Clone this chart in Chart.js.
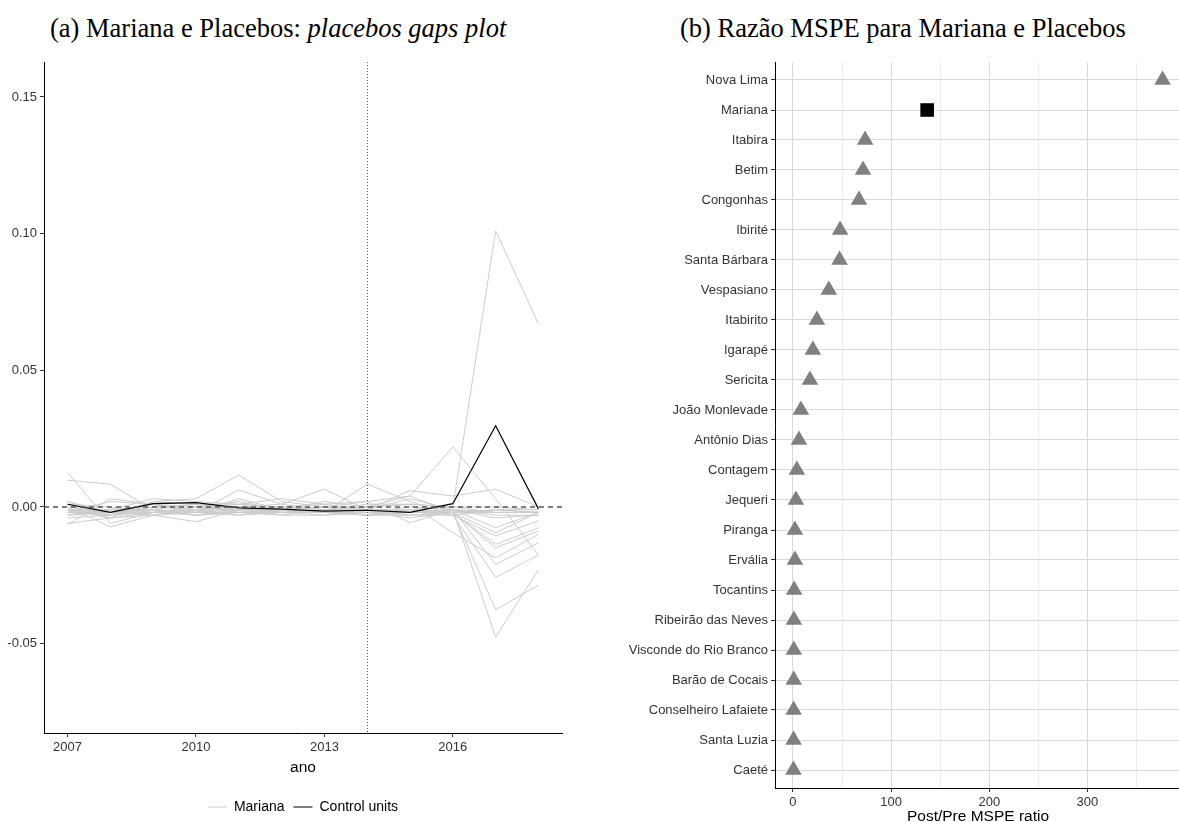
<!DOCTYPE html>
<html>
<head>
<meta charset="utf-8">
<script src="https://cdn.jsdelivr.net/npm/chart.js@4"></script>
<style>
  body { margin: 0; width: 1179px; height: 822px; overflow: hidden; background: #fff; position: relative; }
  .ttl { position: absolute; top: 15px; font-family: "Liberation Serif", "Times New Roman", serif; font-size: 26.5px; line-height: 1; color: #000; white-space: nowrap; }
  #gaps { position: absolute; left: 0; top: 40px; }
  #ratio { position: absolute; left: 598px; top: 50px; }
</style>
</head>
<body>
<div class="ttl" style="left:50px">(a) Mariana e Placebos: <i>placebos gaps plot</i></div>
<div class="ttl" style="left:680px">(b) Razão MSPE para Mariana e Placebos</div>
<canvas id="gaps" width="576" height="784"></canvas>
<canvas id="ratio" width="583" height="778"></canvas>
<script>
// ---- panel (a): gaps ----
const years = [2007, 2008, 2009, 2010, 2011, 2012, 2013, 2014, 2015, 2016, 2017, 2018];
const treatYear = 2014;
const yearTicks = [2007, 2010, 2013, 2016];
const gapTicks = [-0.05, 0, 0.05, 0.10, 0.15];

const marianaGap = [0.001, -0.002, 0.0012, 0.0016, -0.0003, -0.0008, -0.0015, -0.0012, -0.002, 0.0012, 0.0297, -0.0007];

// one row per placebo unit, same order as years
const placeboGaps = [
  [-0.001, -0.002, 0.000, -0.001, 0.001, 0.000, -0.001, 0.000, 0.001, 0.000, 0.101, 0.067],
  [0.002, -0.003, 0.001, 0.000, 0.002, -0.001, 0.000, 0.002, 0.004, 0.022, 0.003, -0.0176],
  [0.0126, -0.006, -0.002, -0.001, 0.000, -0.002, -0.001, -0.002, 0.000, -0.001, -0.002, -0.002],
  [0.0098, 0.0083, -0.001, 0.001, -0.001, 0.000, 0.001, -0.001, 0.006, 0.004, 0.0065, 0.000],
  [-0.006, -0.004, 0.002, 0.003, 0.0117, 0.002, 0.000, -0.001, -0.002, -0.001, -0.0476, -0.0229],
  [-0.0064, 0.003, 0.001, -0.002, 0.0062, 0.001, 0.0065, -0.001, -0.003, -0.002, -0.0376, -0.0286],
  [0.000, -0.0073, -0.003, -0.0054, -0.001, -0.002, -0.002, 0.0084, 0.002, -0.003, -0.0257, -0.0176],
  [-0.003, -0.001, 0.003, 0.002, 0.001, 0.003, 0.001, 0.002, -0.0058, -0.001, -0.021, -0.0131],
  [-0.002, -0.002, -0.001, -0.002, 0.003, -0.001, 0.002, 0.000, 0.001, -0.0094, -0.0186, -0.010],
  [0.001, -0.004, -0.002, -0.003, -0.002, -0.003, -0.003, -0.002, -0.004, -0.002, -0.0149, -0.0088],
  [-0.002, -0.003, -0.002, 0.000, -0.002, -0.002, -0.002, -0.003, -0.002, -0.002, -0.0137, -0.0076],
  [-0.003, -0.002, -0.001, -0.002, -0.001, -0.002, -0.003, -0.002, -0.001, -0.003, -0.0106, -0.0051],
  [-0.001, -0.001, -0.002, -0.001, -0.003, -0.001, -0.002, -0.003, -0.003, -0.002, -0.0094, -0.002],
  [-0.002, 0.002, 0.001, -0.001, 0.000, -0.003, -0.001, -0.002, -0.002, -0.001, -0.0076, -0.002],
  [0.000, -0.002, -0.001, -0.003, -0.001, -0.001, 0.000, -0.001, 0.003, -0.001, -0.003, -0.003],
  [-0.004, -0.003, 0.000, 0.001, -0.002, -0.002, -0.001, -0.001, -0.001, 0.000, -0.002, -0.002],
  [-0.001, -0.004, -0.003, -0.002, -0.002, -0.001, -0.002, -0.002, -0.002, -0.002, -0.002, -0.002],
  [0.001, 0.000, -0.002, -0.002, 0.000, 0.001, -0.001, 0.001, 0.001, 0.000, 0.000, -0.001],
  [-0.002, -0.002, -0.002, 0.000, -0.001, -0.002, -0.002, -0.003, -0.001, -0.002, -0.001, -0.001],
  [-0.003, -0.001, -0.001, -0.002, -0.003, -0.002, -0.002, -0.002, -0.002, -0.001, -0.002, -0.002],
  [-0.001, -0.003, 0.002, 0.001, 0.001, -0.001, 0.000, 0.000, 0.004, -0.002, -0.001, -0.002],
  [0.002, -0.002, -0.003, -0.001, -0.001, -0.002, -0.002, -0.001, -0.002, -0.001, -0.004, -0.003],
  [-0.002, -0.001, -0.001, -0.003, -0.002, -0.001, -0.002, -0.002, -0.003, -0.003, -0.001, -0.002]
];

// ---- panel (b): post/pre MSPE ratio ----
const units = ['Nova Lima', 'Mariana', 'Itabira', 'Betim', 'Congonhas', 'Ibirité', 'Santa Bárbara',
  'Vespasiano', 'Itabirito', 'Igarapé', 'Sericita', 'João Monlevade', 'Antônio Dias', 'Contagem',
  'Jequeri', 'Piranga', 'Ervália', 'Tocantins', 'Ribeirão das Neves', 'Visconde do Rio Branco',
  'Barão de Cocais', 'Conselheiro Lafaiete', 'Santa Luzia', 'Caeté'];
const mspeRatio = [376.5, 136.7, 73.5, 71.4, 67.3, 48, 47.5, 36.5, 24.4, 20.3, 17.3, 8.1, 6.1, 4,
  3, 2, 2, 1.2, 1, 0.9, 0.8, 0.7, 0.6, 0.5];
const ratioTicks = [0, 50, 100, 150, 200, 250, 300, 350];
const treatedUnit = 'Mariana';

Chart.defaults.font.family = '"Liberation Sans", Arial, sans-serif';
Chart.defaults.font.size = 13;
Chart.defaults.color = '#333';
Chart.defaults.animation = false;

const refLines = {
  id: 'refLines',
  afterDatasetsDraw(chart) {
    const { ctx, chartArea: a, scales: { x, y } } = chart;
    ctx.save();
    // treatment year, dotted
    const vx = Math.round(x.getPixelForValue(treatYear)) + 0.5;
    ctx.strokeStyle = '#555';
    ctx.lineWidth = 1;
    ctx.setLineDash([1, 2]);
    ctx.beginPath(); ctx.moveTo(vx, a.top); ctx.lineTo(vx, a.bottom); ctx.stroke();
    // zero gap, dashed
    const hy = y.getPixelForValue(0);
    ctx.strokeStyle = '#555';
    ctx.lineWidth = 1.4;
    ctx.setLineDash([5, 4]);
    ctx.beginPath(); ctx.moveTo(a.left, hy); ctx.lineTo(a.right, hy); ctx.stroke();
    ctx.restore();
  }
};

const toPts = vals => years.map((yr, i) => ({ x: yr, y: vals[i] }));

const gapSets = placeboGaps.map(g => ({
  label: 'Mariana', data: toPts(g), borderColor: '#cccccc', borderWidth: 1,
  pointRadius: 0, order: 1
}));
gapSets.push({
  label: 'Control units', data: toPts(marianaGap), borderColor: '#000', borderWidth: 1.2,
  pointRadius: 0, order: 0
});

new Chart(document.getElementById('gaps'), {
  type: 'line',
  data: { datasets: gapSets },
  plugins: [refLines],
  options: {
    responsive: false,
    layout: { autoPadding: false, padding: { top: 22, right: 14, left: 0, bottom: 0 } },
    plugins: {
      tooltip: { enabled: false },
      legend: {
        position: 'bottom',
        fullSize: false,
        labels: {
          boxWidth: 19, boxHeight: 1, padding: 9, color: '#000', font: { size: 14 },
          generateLabels: () => [
            { text: 'Mariana', fillStyle: '#cccccc', strokeStyle: '#cccccc', lineWidth: 0, hidden: false, datasetIndex: 0 },
            { text: 'Control units', fillStyle: '#000', strokeStyle: '#000', lineWidth: 0, hidden: false, datasetIndex: placeboGaps.length }
          ]
        }
      }
    },
    scales: {
      x: {
        type: 'linear', min: 2006.45, max: 2018.55,
        afterBuildTicks: s => { s.ticks = yearTicks.map(v => ({ value: v })); },
        afterFit: s => { s.height = 58; },
        ticks: { callback: v => String(v), maxRotation: 0, padding: 3 },
        grid: { drawOnChartArea: false, tickLength: 4, tickColor: '#333' },
        border: { color: '#000', width: 1 },
        title: { display: true, text: 'ano', color: '#000', font: { size: 15.5 }, padding: { top: 0, bottom: 14 } }
      },
      y: {
        type: 'linear', min: -0.0827, max: 0.1628,
        afterBuildTicks: s => { s.ticks = gapTicks.map(v => ({ value: v })); },
        afterFit: s => { s.width = 44; },
        ticks: { callback: v => v.toFixed(2), padding: 3 },
        grid: { drawOnChartArea: false, tickLength: 4, tickColor: '#333' },
        border: { color: '#000', width: 1 }
      }
    }
  }
});

const placeboPts = [], treatedPts = [];
units.forEach((u, i) => (u === treatedUnit ? treatedPts : placeboPts).push({ x: mspeRatio[i], y: i }));

new Chart(document.getElementById('ratio'), {
  type: 'scatter',
  data: {
    datasets: [
      { label: treatedUnit, data: treatedPts, pointStyle: 'rect', pointRadius: 9.6, backgroundColor: '#000', borderWidth: 0 },
      { label: 'Placebos', data: placeboPts, pointStyle: 'triangle', pointRadius: 9.6, backgroundColor: '#808080', borderWidth: 0 }
    ]
  },
  options: {
    responsive: false,
    layout: { autoPadding: false, padding: { top: 12, right: 0, left: 0, bottom: 0 } },
    plugins: { legend: { display: false }, tooltip: { enabled: false } },
    scales: {
      x: {
        type: 'linear', min: -18.3, max: 395.3,
        afterBuildTicks: s => { s.ticks = ratioTicks.map(v => ({ value: v })); },
        afterFit: s => { s.height = 40; },
        ticks: { callback: v => (v % 100 === 0 ? String(v) : ''), maxRotation: 0, padding: 3 },
        grid: {
          color: c => (c.tick && c.tick.value % 100 === 0 ? '#d9d9d9' : '#ececec'),
          tickColor: c => (c.tick && c.tick.value % 100 === 0 ? '#333' : 'rgba(0,0,0,0)'),
          tickLength: 4
        },
        border: { color: '#000', width: 1 },
        title: { display: true, text: 'Post/Pre MSPE ratio', color: '#000', font: { size: 15.5 }, padding: { top: 0, bottom: 2 } }
      },
      y: {
        type: 'linear', reverse: true, min: -0.6, max: units.length - 0.4,
        afterBuildTicks: s => { s.ticks = units.map((u, i) => ({ value: i })); },
        afterFit: s => { s.width = 177; },
        ticks: { callback: v => units[v], padding: 3 },
        grid: { color: '#d9d9d9', tickColor: '#333', tickLength: 4 },
        border: { color: '#000', width: 1 }
      }
    }
  }
});
</script>
</body>
</html>
